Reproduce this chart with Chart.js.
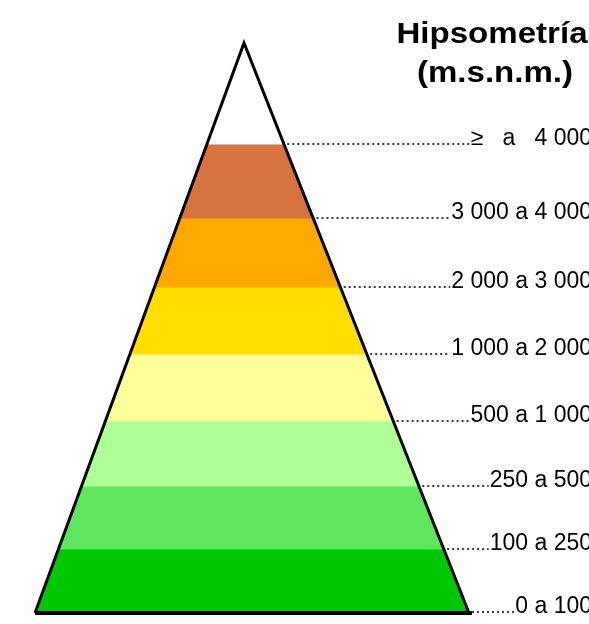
<!DOCTYPE html>
<html><head><meta charset="utf-8">
<script src="https://cdn.jsdelivr.net/npm/chart.js@4.4.1/dist/chart.umd.min.js"></script>
<style>html,body{margin:0;padding:0;background:#fff;overflow:hidden}#wrap{width:589px;height:624px;position:relative}</style>
</head><body><div id="wrap"><canvas id="c" width="589" height="624"></canvas></div>
<script>
// ---- data (bottom class first) ----
const titleLines = ['Hipsometría', '(m.s.n.m.)'];
const classLabels = ['0 a 100', '100 a 250', '250 a 500', '500 a 1 000', '1 000 a 2 000', '2 000 a 3 000', '3 000 a 4 000', '≥   a   4 000'];
const bandThickness = [63, 63, 65, 67, 67, 69, 74, 102];
const bandColors = ['#00C800', '#5FE65F', '#AEFF96', '#FFFF99', '#FFDD00', '#FFA800', '#D7733F', '#FFFFFF'];

const APEX = 0.4816; // apex position as fraction of base width
const levels = [0];
bandThickness.forEach(t => levels.push(levels[levels.length - 1] + t));
const H = levels[levels.length - 1];
const xL = h => APEX * h / H;
const xR = h => 1 - (1 - APEX) * h / H;

const datasets = bandThickness.map((t, i) => {
  const h0 = levels[i], h1 = levels[i + 1];
  return {
    type: 'scatter', label: classLabels[i], showLine: true, fill: 'shape',
    data: [{x: xL(h0), y: h0}, {x: xR(h0), y: h0}, {x: xR(h1), y: h1}, {x: xL(h1), y: h1}, {x: xL(h0), y: h0}],
    backgroundColor: bandColors[i], borderColor: bandColors[i], borderWidth: 1,
    pointRadius: 0, tension: 0, clip: false, order: 2
  };
});
datasets.push({
  type: 'scatter', label: 'outline', showLine: true, fill: false,
  data: [{x: 0, y: 0}, {x: APEX, y: H}, {x: 1, y: 0}],
  borderColor: '#000', borderWidth: 3, pointRadius: 0, clip: false, order: 0, borderJoinStyle: 'miter'
});
datasets.push({
  type: 'scatter', label: 'base', showLine: true, fill: false,
  data: [{x: 0, y: 0}, {x: 1.007, y: 0}],
  borderColor: '#000', borderWidth: 4, pointRadius: 0, clip: false, order: 0
});

const labelPlugin = {
  id: 'labels',
  afterDraw(chart) {
    const ctx = chart.ctx, xs = chart.scales.x, ys = chart.scales.y;
    ctx.save();
    ctx.font = '23px "Liberation Sans", Arial, sans-serif';
    ctx.fillStyle = '#000';
    ctx.textBaseline = 'alphabetic';
    const R = 592;
    bandThickness.forEach((t, i) => {
      const h0 = levels[i];
      const y = Math.round(ys.getPixelForValue(h0));
      const x0 = xs.getPixelForValue(xR(h0)) + 3;
      const w = ctx.measureText(classLabels[i]).width;
      const xt = R - w;
      ctx.save();
      ctx.strokeStyle = '#2b3a66';
      ctx.lineWidth = 2;
      ctx.setLineDash([2, 3]);
      ctx.beginPath();
      ctx.moveTo(x0, y - 1);
      ctx.lineTo(xt - 1, y - 1);
      ctx.stroke();
      ctx.restore();
      ctx.textAlign = 'left';
      ctx.fillText(classLabels[i], xt, y);
    });
    ctx.font = 'bold 29px "Liberation Sans", Arial, sans-serif';
    ctx.textAlign = 'center';
    [[titleLines[0], 492, 43], [titleLines[1], 495, 82]].forEach(([txt, cx, by]) => {
      ctx.save();
      ctx.translate(cx, by);
      ctx.scale(1.14, 1);
      ctx.fillText(txt, 0, 0);
      ctx.restore();
    });
    ctx.restore();
  }
};

new Chart(document.getElementById('c'), {
  type: 'scatter',
  data: {datasets},
  options: {
    responsive: false, animation: false, devicePixelRatio: 1,
    layout: {padding: {left: 35, right: 120, top: 43, bottom: 11}},
    plugins: {legend: {display: false}, tooltip: {enabled: false}, title: {display: false}},
    scales: {
      x: {type: 'linear', min: 0, max: 1, display: false},
      y: {type: 'linear', min: 0, max: H, display: false}
    }
  },
  plugins: [labelPlugin]
});
</script></body></html>
